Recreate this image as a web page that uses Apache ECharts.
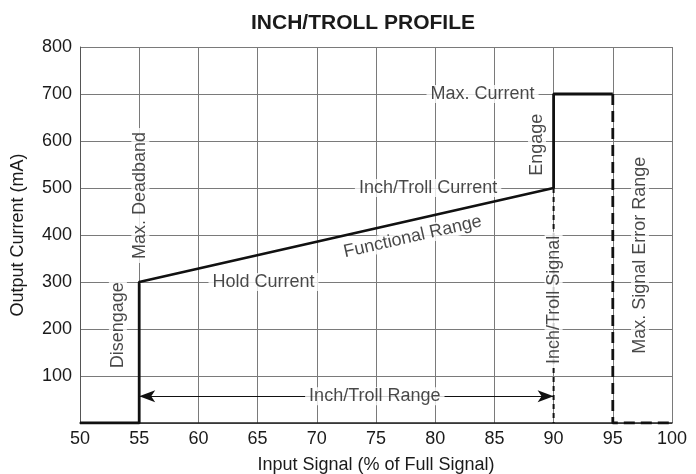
<!DOCTYPE html>
<html>
<head>
<meta charset="utf-8">
<script src="https://cdn.jsdelivr.net/npm/echarts@6/dist/echarts.min.js"></script>
<style>
  html, body { margin: 0; padding: 0; background: #fff; }
  #chart { width: 696px; height: 474px; }
</style>
</head>
<body>
<div id="chart"></div>
<script>
// inch/troll profile, values
const profile = [[50, 0], [55, 0], [55, 300], [90, 500], [90, 700], [95, 700]]
const errorEdge = [[95, 700], [95, 0], [100, 0]]
const signalEdge = [[90, 500], [90, 0]]
const rangeArrow = [[55, 57], [90, 57]]

// [text, x, y, angle]
const notes = [
  ['Max. Current', 84, 700, 0],
  ['Engage', 88.6, 592, 90],
  ['Inch/Troll Current', 79.4, 500, 0],
  ['Functional Range', 78.1, 396, 12.8],
  ['Hold Current', 65.5, 300, 0],
  ['Max. Deadband', 55.1, 484, 90],
  ['Disengage', 53.2, 208, 90],
  ['Inch/Troll Range', 74.9, 57, 0],
  ['Inch/Troll Signal', 90, 262, 90],
  ['Max. Signal Error Range', 97.3, 357, 90]
]

const font = 'Liberation Sans, Arial, sans-serif'
const ink = '#1a1a1a'

const chart = echarts.init(document.getElementById('chart'))

chart.setOption({
  animation: false,
  title: {
    text: 'INCH/TROLL PROFILE',
    left: 358,
    textAlign: 'center',
    top: 8,
    textStyle: { fontFamily: font, fontSize: 21, fontWeight: 'bold', color: ink }
  },
  grid: { left: 80, right: 24, top: 47, bottom: 51, outerBoundsMode: 'none' },
  xAxis: {
    type: 'value',
    min: 50,
    max: 100,
    interval: 5,
    name: 'Input Signal (% of Full Signal)',
    nameLocation: 'middle',
    nameGap: 33,
    nameTextStyle: { fontFamily: font, fontSize: 18, color: ink },
    axisLine: { lineStyle: { color: '#222', width: 1.5 } },
    axisTick: { show: false },
    axisLabel: { fontFamily: font, fontSize: 18, color: ink, margin: 7 },
    splitLine: { lineStyle: { color: '#7a7a7a', width: 1 } }
  },
  yAxis: {
    type: 'value',
    min: 0,
    max: 800,
    interval: 100,
    name: 'Output Current (mA)',
    nameLocation: 'middle',
    nameGap: 53,
    nameTextStyle: { fontFamily: font, fontSize: 18, color: ink },
    axisLine: { show: true, lineStyle: { color: '#555', width: 1 } },
    axisTick: { show: false },
    axisLabel: {
      fontFamily: font, fontSize: 18, color: ink, margin: 8,
      formatter: v => (v === 0 ? '' : v)
    },
    splitLine: { lineStyle: { color: '#7a7a7a', width: 1 } }
  },
  series: [
    {
      type: 'line',
      data: profile,
      symbol: 'none',
      lineStyle: { color: '#111', width: 2.8 },
      z: 3
    },
    {
      type: 'line',
      data: errorEdge,
      symbol: 'none',
      lineStyle: { color: '#111', width: 2.8, type: [11, 6] },
      z: 3
    },
    {
      type: 'line',
      data: signalEdge,
      symbol: 'none',
      lineStyle: { color: '#111', width: 2, type: [5, 4] },
      z: 3
    },
    {
      type: 'line',
      data: [],
      markLine: {
        silent: true,
        symbol: ['arrow', 'arrow'],
        symbolSize: [9, 16],
        label: { show: false },
        lineStyle: { color: '#111', width: 1.2, type: 'solid' },
        data: [[{ coord: rangeArrow[0] }, { coord: rangeArrow[1] }]]
      }
    },
    {
      type: 'scatter',
      data: notes.map(n => ({
        value: [n[1], n[2]],
        label: { formatter: n[0], rotate: n[3] }
      })),
      symbolSize: 1,
      itemStyle: { color: 'rgba(0,0,0,0)' },
      label: {
        show: true,
        position: 'inside',
        fontFamily: font,
        fontSize: 18,
        color: ink,
        backgroundColor: '#fff',
        padding: [0, 4]
      },
      z: 10
    }
  ]
})
</script>
</body>
</html>
